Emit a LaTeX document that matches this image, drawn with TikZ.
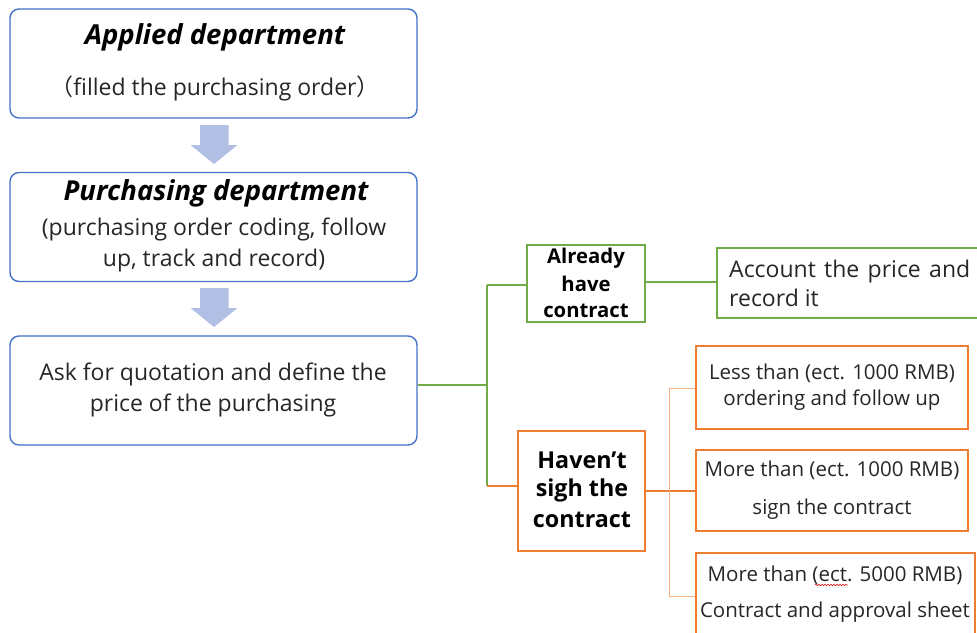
\documentclass[tikz,border=0pt]{standalone}
\usepackage{fontspec}
\setmainfont{Open Sans}
\newfontfamily\cjk{Noto Sans CJK SC}
\usetikzlibrary{decorations.pathmorphing}
\definecolor{flowblue}{HTML}{4472C4}
\definecolor{arrowfill}{HTML}{B0BFE3}
\definecolor{branchgreen}{HTML}{70AD47}
\definecolor{branchorange}{HTML}{ED7D31}
\definecolor{thinorange}{HTML}{F4B183}
\definecolor{bodytext}{HTML}{262626}
\begin{document}
\begin{tikzpicture}[x=1pt,y=-1pt,
  flowbox/.style={draw=flowblue,line width=1.4pt,rounded corners=9pt,minimum width=407pt,minimum height=109pt,inner sep=0pt},
  greenbox/.style={draw=branchgreen,line width=1.4pt,inner sep=0pt},
  orangebox/.style={draw=branchorange,line width=1.4pt,inner sep=0pt},
  heading/.style={inner sep=0pt,font=\fontsize{27.5}{32}\selectfont\bfseries\itshape,text=black},
  body/.style={inner sep=0pt,font=\fontsize{23}{27}\selectfont,text=bodytext},
  small/.style={inner sep=0pt,font=\fontsize{20.5}{24}\selectfont,text=bodytext},
  boldlbl/.style={inner sep=0pt,font=\fontsize{20.3}{24}\selectfont\bfseries,text=black},
  boldbig/.style={inner sep=0pt,font=\fontsize{23.3}{27}\selectfont\bfseries,text=black},
  blockarrow/.style={fill=arrowfill,draw=none},
  greenline/.style={draw=branchgreen,line width=1.2pt},
  orangeline/.style={draw=branchorange,line width=1.2pt},
  thinline/.style={draw=thinorange,line width=0.9pt}]
\useasboundingbox (0,0) rectangle (977,632);

% main flow boxes
\node[flowbox] (applied) at (213.5,63.5) {};
\node[flowbox] (purchasing) at (213.5,227) {};
\node[flowbox] (quote) at (213.5,390.5) {};

\node[heading] (appliedT) at (215,37) {Applied department};
\node[body] (appliedS) at (215,88) {{\cjk （}filled the purchasing order{\cjk ）}};
\node[heading] (purchT) at (216,193) {Purchasing department};
\node[body] (purchS1) at (214,229) {(purchasing order coding, follow};
\node[body] (purchS2) at (214,261) {up, track and record)};
\node[body] (quoteS1) at (213,374) {Ask for quotation and define the};
\node[body] (quoteS2) at (213,405) {price of the purchasing};

% block arrows between the flow boxes
\foreach \dy in {0,163}{
  \path[blockarrow] (200,125+\dy) -- (228.5,125+\dy) -- (228.5,145+\dy) -- (237.5,145+\dy)
    -- (214,164+\dy) -- (190.5,145+\dy) -- (200,145+\dy) -- cycle;
}

% branch boxes
\node[greenbox,minimum width=118pt,minimum height=77pt] (have) at (586,283.5) {};
\node[boldlbl] (haveA) at (586,258) {Already};
\node[boldlbl] (haveB) at (586,284) {have};
\node[boldlbl] (haveC) at (586,311) {contract};

\node[greenbox,minimum width=262pt,minimum height=70pt] (account) at (848,283) {};
\node[body,anchor=west] (accA) at (729,272) {\makebox[241pt][s]{Account the price and}};
\node[body,anchor=west] (accB) at (729,298) {record it};

\node[orangebox,minimum width=127pt,minimum height=120pt] (havent) at (581.5,491) {};
\node[boldbig] (haventA) at (582,460) {Haven’t};
\node[boldbig] (haventB) at (582,490) {sigh the};
\node[boldbig] (haventC) at (582,520) {contract};

\node[orangebox,minimum width=272pt,minimum height=83pt] (less) at (832,387.5) {};
\node[small] (lessA) at (832,373) {Less than (ect. 1000 RMB)};
\node[small] (lessB) at (832,400) {ordering and follow up};

\node[orangebox,minimum width=272pt,minimum height=81pt] (more1) at (832,490.5) {};
\node[small] (more1A) at (832,470) {More than (ect. 1000 RMB)};
\node[small] (more1B) at (832,509) {sign the contract};

\node[orangebox,minimum width=279pt,minimum height=90pt] (more2) at (835.5,598) {};
\node[small] (more2A) at (835,575) {More than (ect. 5000 RMB)};
\node[small] (more2B) at (835,612) {Contract and approval sheet};
\draw[red!80!black,line width=0.5pt,decorate,decoration={snake,amplitude=0.8pt,segment length=3pt}]
  (815,585) -- (848,585);

% connectors
\coordinate (gsplit) at (487,385);
\draw[greenline] (quote.east |- gsplit) -- (gsplit);
\draw[greenline] (487,285) -- (487,486);
\draw[greenline] (487,285) -- (have.west |- 0,285);
\draw[orangeline] (487,486) -- (havent.west |- 0,486);
\draw[greenline] (have.east |- 0,282) -- (account.west |- 0,282);

\draw[orangeline] (havent.east) -- (more1.west |- havent.east);
\draw[thinline] (669,388) -- (669,596);
\draw[thinline] (669,388) -- (less.west |- 0,388);
\draw[thinline] (669,596) -- (more2.west |- 0,596);
\end{tikzpicture}
\end{document}
